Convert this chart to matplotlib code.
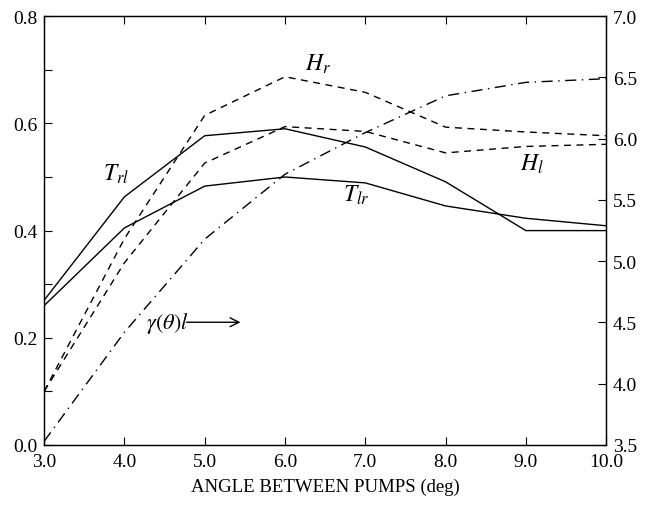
import matplotlib
matplotlib.use("Agg")
import matplotlib.pyplot as plt
import numpy as np

plt.rcParams['font.family'] = ['Liberation Serif', 'DejaVu Serif']
plt.rcParams['mathtext.fontset'] = 'stix'

angle = [3.0, 4.0, 5.0, 6.0, 7.0, 8.0, 9.0, 10.0]
T_rl = [0.27, 0.463, 0.577, 0.590, 0.556, 0.491, 0.400, 0.400]
T_lr = [0.26, 0.405, 0.483, 0.500, 0.489, 0.446, 0.423, 0.409]
H_r = [0.10, 0.385, 0.615, 0.687, 0.658, 0.593, 0.584, 0.577]
H_l = [0.10, 0.34, 0.526, 0.594, 0.585, 0.545, 0.557, 0.561]
gamma_l = [3.53, 4.42, 5.18, 5.71, 6.05, 6.35, 6.46, 6.49]

fig = plt.figure(figsize=(6.49, 5.06), dpi=100)
ax = fig.add_axes([0.068, 0.1186, 0.866, 0.8474])
ax2 = ax.twinx()

ax.plot(angle, T_rl, color='black', lw=1.0)
ax.plot(angle, T_lr, color='black', lw=1.0)
ax.plot(angle, H_r, color='black', lw=1.0, dashes=(5, 4))
ax.plot(angle, H_l, color='black', lw=1.0, dashes=(5, 4))
ax2.plot(angle, gamma_l, color='black', lw=1.0, dashes=(8, 4, 1, 4))

ax.set_xlim(3.0, 10.0)
ax.set_ylim(0.0, 0.8)
ax2.set_ylim(3.5, 7.0)

ax.set_xticks(np.arange(3, 11, 1))
ax.set_xticklabels(['%.1f' % v for v in np.arange(3, 11, 1)])
ax.set_yticks(np.arange(0, 0.81, 0.2))
ax.set_yticklabels(['%.1f' % v for v in np.arange(0, 0.81, 0.2)])
ax.set_yticks(np.arange(0, 0.81, 0.1), minor=True)
ax2.set_yticks(np.arange(3.5, 7.01, 0.5))
ax2.set_yticklabels(['%.1f' % v for v in np.arange(3.5, 7.01, 0.5)])

ax.tick_params(axis='both', which='both', direction='in', top=True, labelsize=14, length=6, width=0.8)
ax.tick_params(axis='y', which='minor', length=6)
ax.tick_params(axis='x', pad=6)
ax.tick_params(axis='y', pad=5)
ax2.tick_params(axis='y', direction='in', labelsize=14, length=6, width=0.8, pad=5)
for lbl in ax2.get_yticklabels():
    lbl.set_verticalalignment('center_baseline')

for a in (ax, ax2):
    for s in a.spines.values():
        s.set_linewidth(0.9)

ax.set_xlabel('ANGLE BETWEEN PUMPS (deg)', fontsize=13.5, labelpad=5)

ax.text(3.73, 0.495, r'$T_{rl}$', fontsize=17)
ax.text(6.72, 0.455, r'$T_{lr}$', fontsize=17)
ax.text(6.25, 0.70, r'$H_r$', fontsize=17)
ax.text(8.93, 0.513, r'$H_l$', fontsize=17)
ax.annotate('', xy=(5.48, 0.229), xytext=(4.74, 0.229),
            arrowprops=dict(arrowstyle='->', color='black', lw=1.0, mutation_scale=16))
ax.text(4.27, 0.229, r'$\gamma(\theta)l$', fontsize=16, va='center')

fig.savefig('out.png', dpi=100, facecolor='white')
